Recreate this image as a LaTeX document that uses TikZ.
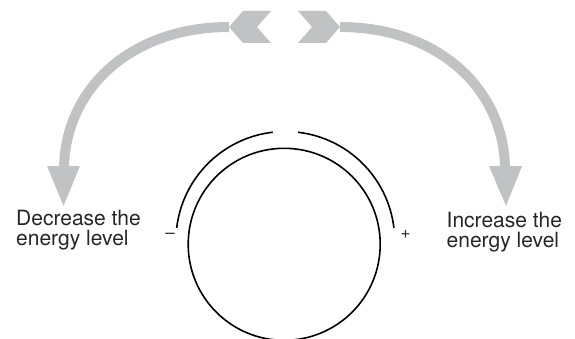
\documentclass[tikz,border=0pt]{standalone}
\usepackage{fontspec}
\setmainfont{TeX Gyre Heros}
\usetikzlibrary{calc}
\definecolor{arrowgray}{RGB}{193,194,196}
\begin{document}
\begin{tikzpicture}[x=1pt,y=1pt,
  ring/.style={draw=black,line width=1.6pt},
  shaft/.style={draw=arrowgray,line width=10pt},
  headfill/.style={fill=arrowgray,draw=none},
  lbl/.style={anchor=base west,inner sep=0pt,font=\fontsize{21}{20}\selectfont,text=black!85},
  sgn/.style={inner sep=0pt,font=\fontsize{17}{17}\selectfont,text=black!85}]
\useasboundingbox (0,0) rectangle (575,338);
\clip (0,0) rectangle (575,338);
% dial
\coordinate (cin) at (284.2,93.7);
\coordinate (cout) at (285.3,97.1);
\draw[ring] (cin) circle[radius=96];
\draw[ring] ($(cout)+(173.2:109.4)$) arc[start angle=173.2,end angle=96.6,radius=109.4];
\draw[ring] ($(cout)+(83.3:109.4)$) arc[start angle=83.3,end angle=6.8,radius=109.4];
% chevrons
\coordinate (lch) at (229,311);
\coordinate (rch) at (340,311);
\fill[headfill] (229,311) -- (243,327) -- (271,327) -- (257,311) -- (271,295) -- (243,295) -- cycle;
\fill[headfill] (340,311) -- (326,327) -- (298,327) -- (312,311) -- (298,295) -- (326,295) -- cycle;
% shafts
\coordinate (lend) at (64,168);
\coordinate (rend) at (505,168);
\draw[shaft] (lch) .. controls (130,311) and (64,248) .. (lend);
\draw[shaft] (rch) .. controls (439,311) and (505,248) .. (rend);
% heads
\fill[headfill] (47,172) -- (80,172) -- (63.5,132) -- cycle;
\fill[headfill] (489,172) -- (522,172) -- (506,132) -- cycle;
% labels
\node[lbl] (dec1) at (16,113) {Decrease the};
\node[lbl] (dec2) at (16,93) {energy level};
\node[lbl] (inc1) at (446.5,111) {Increase the};
\node[lbl] (inc2) at (446.5,91) {energy level};
\node[sgn] (minus) at (170,102) {–};
\node[sgn] (plus) at (405.7,104) {+};
\end{tikzpicture}
\end{document}
